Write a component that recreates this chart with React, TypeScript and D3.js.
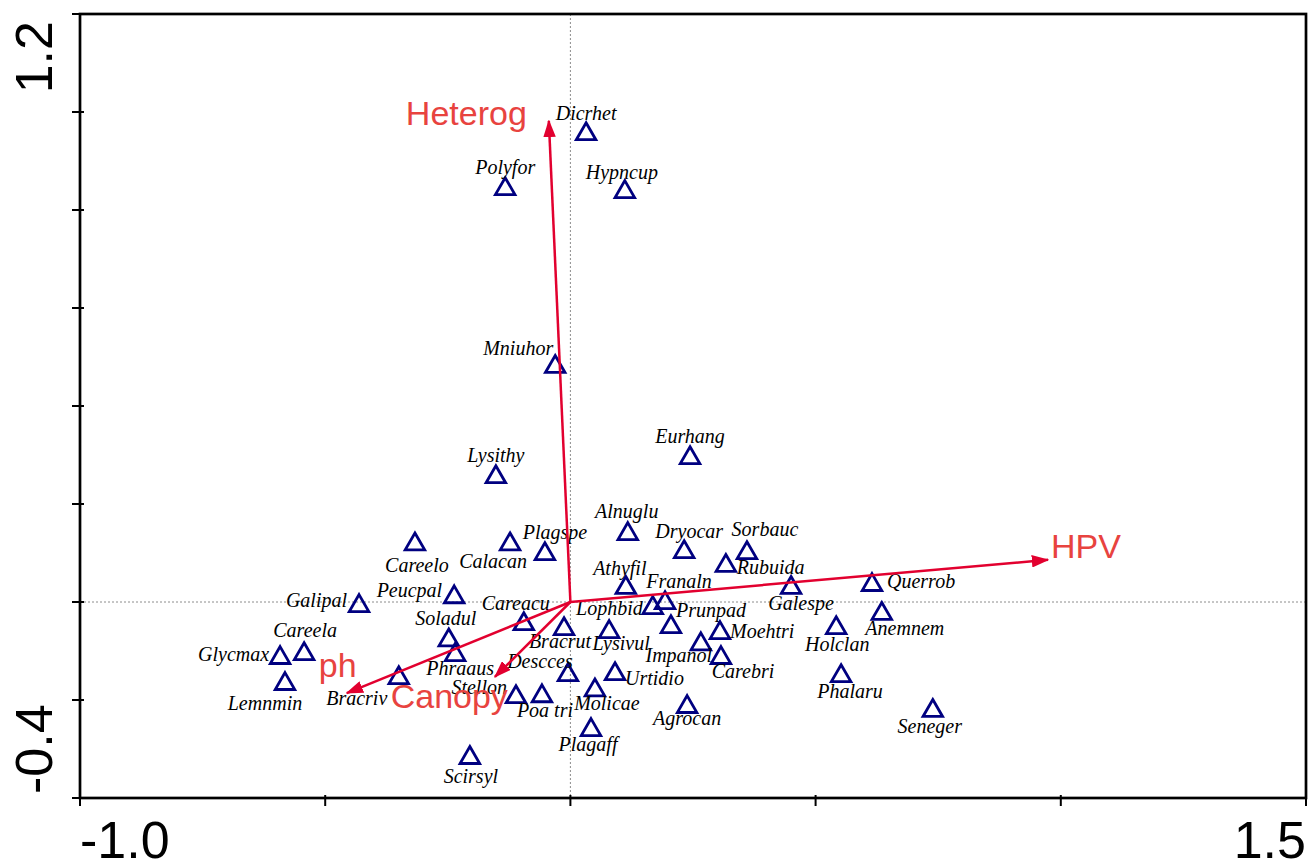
import React from 'react';
import * as d3 from 'd3';

// species scores (axis 1, axis 2)
const speciesNames = [
  'Dicrhet', 'Polyfor', 'Hypncup', 'Mniuhor', 'Eurhang', 'Lysithy', 'Careelo', 'Calacan', 'Plagspe',
  'Alnuglu', 'Dryocar', 'Sorbauc', 'Rubuida', 'Athyfil', 'Franaln', 'Lophbid', 'Prunpad', 'Galespe',
  'Querrob', 'Anemnem', 'Holclan', 'Moehtri', 'Impanol', 'Carebri', 'Phalaru', 'Seneger', 'Agrocan',
  'Urtidio', 'Lysivul', 'Molicae', 'Plagaff', 'Bracrut', 'Descces', 'Careacu', 'Poa tri', 'Stellon',
  'Scirsyl', 'Peucpal', 'Soladul', 'Phraaus', 'Galipal', 'Bracriv', 'Careela', 'Glycmax', 'Lemnmin',
];
const speciesX = [
  0.032, -0.133, 0.111, -0.031, 0.244, -0.152, -0.317, -0.123, -0.052,
  0.117, 0.232, 0.360, 0.317, 0.113, 0.193, 0.168, 0.205, 0.450,
  0.615, 0.635, 0.542, 0.305, 0.266, 0.307, 0.552, 0.739, 0.238,
  0.091, 0.079, 0.050, 0.042, -0.013, -0.005, -0.095, -0.058, -0.111,
  -0.205, -0.237, -0.248, -0.235, -0.431, -0.350, -0.543, -0.592, -0.582,
];
const speciesY = [
  0.957, 0.845, 0.839, 0.482, 0.296, 0.257, 0.120, 0.120, 0.100,
  0.141, 0.104, 0.102, 0.076, 0.031, 0.000, -0.010, -0.049, 0.031,
  0.037, -0.022, -0.051, -0.061, -0.084, -0.112, -0.149, -0.220, -0.212,
  -0.145, -0.059, -0.178, -0.259, -0.053, -0.147, -0.043, -0.190, -0.192,
  -0.316, 0.012, -0.076, -0.106, -0.006, -0.153, -0.104, -0.112, -0.165,
];

// environmental variables (arrow tips)
const envNames = ['Heterog', 'HPV', 'ph', 'Canopy'];
const envX = [-0.044, 0.974, -0.456, -0.154];
const envY = [0.982, 0.086, -0.186, -0.153];

const xTicks = [-1.0, -0.5, 0, 0.5, 1.0, 1.5];
const yTicks = [-0.4, -0.2, 0, 0.2, 0.4, 0.6, 0.8, 1.0, 1.2];
const xTickLabels = ['-1.0', '1.5'];
const yTickLabels = ['-0.4', '1.2'];

// label placement: [dx, dy, anchor]
const labelPos: Record<string, [number, number, string]> = {
  Dicrhet: [0, -13, 'middle'], Polyfor: [0, -14, 'middle'], Hypncup: [-3, -12, 'middle'],
  Mniuhor: [-2, -11, 'end'], Eurhang: [0, -14, 'middle'], Lysithy: [0, -14, 'middle'],
  Careelo: [2, 29, 'middle'], Calacan: [-17, 25, 'middle'], Plagspe: [10, -14, 'middle'],
  Alnuglu: [-1, -15, 'middle'], Dryocar: [5, -13, 'middle'], Sorbauc: [18, -16, 'middle'],
  Rubuida: [11, 9, 'start'], Athyfil: [-6, -12, 'middle'], Franaln: [14, -14, 'middle'],
  Lophbid: [-10, 8, 'end'], Prunpad: [5, -9, 'start'], Galespe: [10, 23, 'middle'],
  Querrob: [15, 4, 'start'], Anemnem: [23, 22, 'middle'], Holclan: [1, 24, 'middle'],
  Moehtri: [10, 6, 'start'], Impanol: [-22, 19, 'middle'], Carebri: [22, 21, 'middle'],
  Phalaru: [9, 23, 'middle'], Seneger: [-3, 23, 'middle'], Agrocan: [0, 19, 'middle'],
  Urtidio: [10, 12, 'start'], Lysivul: [12, 19, 'middle'], Molicae: [12, 21, 'middle'],
  Plagaff: [-3, 22, 'middle'], Bracrut: [-4, 20, 'middle'], Descces: [-28, -6, 'middle'],
  Careacu: [-8, -13, 'middle'], 'Poa tri': [3, 22, 'middle'], Stellon: [-9, -2, 'end'],
  Scirsyl: [1, 26, 'middle'], Peucpal: [-12, 1, 'end'], Soladul: [-3, -14, 'middle'],
  Phraaus: [5, 21, 'middle'], Galipal: [-12, 2, 'end'], Bracriv: [-42, 28, 'middle'],
  Careela: [1, -16, 'middle'], Glycmax: [-11, 4, 'end'], Lemnmin: [-20, 27, 'middle'],
};
const envLabelPos: Record<string, [number, number, string]> = {
  Heterog: [-22, 4, 'end'],
  HPV: [3, -2, 'start'],
  ph: [-28, -16, 'start'],
  Canopy: [13, 31, 'end'],
};

const width = 1309;
const height = 863;
const left = 80, right = 1306, top = 14, bottom = 798;

const arrowColor = '#e2002f';
const envTextColor = '#e8433f';
const pointColor = '#000080';

const App = () => {
  const x = d3.scaleLinear().domain([-1.0, 1.5]).range([left, right]);
  const y = d3.scaleLinear().domain([-0.4, 1.2]).range([bottom, top]);

  const tri = d3.symbol().type(d3.symbolTriangle).size(165)();

  return (
    <svg width={width} height={height} style={{ position: 'absolute', left: 0, top: 0, background: '#fff' }}>
      <defs>
        <marker id="arrowHead" viewBox="0 0 14 10" refX="13" refY="5" markerWidth="7" markerHeight="5"
          orient="auto" markerUnits="strokeWidth">
          <path d="M0,0 L14,5 L0,10 z" fill={arrowColor} />
        </marker>
      </defs>

      {/* zero lines */}
      <line x1={x(0)} x2={x(0)} y1={top} y2={bottom} stroke="#8c8c8c" strokeWidth={1} strokeDasharray="2,2" />
      <line x1={left} x2={right} y1={y(0)} y2={y(0)} stroke="#8c8c8c" strokeWidth={1} strokeDasharray="2,2" />

      {/* frame */}
      <rect x={left} y={top} width={right - left} height={bottom - top} fill="none" stroke="#000" strokeWidth={2.7} />

      {/* ticks */}
      {xTicks.map((t) => (
        <line key={'xt' + t} x1={x(t)} x2={x(t)} y1={bottom - 3} y2={bottom + 8} stroke="#000" strokeWidth={2} />
      ))}
      {yTicks.map((t) => (
        <line key={'yt' + t} x1={left - 8} x2={left + 4} y1={y(t)} y2={y(t)} stroke="#000" strokeWidth={2} />
      ))}

      {/* tick labels */}
      <g fontFamily="Liberation Sans, Arial, sans-serif" fontSize={52} fill="#000">
        <text x={x(-1.0)} y={858} textAnchor="start">{xTickLabels[0]}</text>
        <text x={x(1.5)} y={858} textAnchor="end">{xTickLabels[1]}</text>
        <text transform={`translate(52,${y(-0.4) - 4}) rotate(-90)`} textAnchor="start">{yTickLabels[0]}</text>
        <text transform={`translate(52,${y(1.2) + 7}) rotate(-90)`} textAnchor="end">{yTickLabels[1]}</text>
      </g>

      {/* species */}
      {speciesNames.map((name, i) => (
        <path key={'p' + name} d={tri} transform={`translate(${x(speciesX[i])},${y(speciesY[i]) + 1})`}
          fill="none" stroke={pointColor} strokeWidth={2.8} />
      ))}
      <g fontFamily="Liberation Serif, Times New Roman, serif" fontStyle="italic" fontSize={20} fill="#000">
        {speciesNames.map((name, i) => {
          const [dx, dy, anchor] = labelPos[name];
          return (
            <text key={'l' + name} x={x(speciesX[i]) + dx} y={y(speciesY[i]) + dy} textAnchor={anchor}>{name}</text>
          );
        })}
      </g>

      {/* environmental arrows */}
      {envNames.map((name, i) => (
        <line key={'a' + name} x1={x(0)} y1={y(0)} x2={x(envX[i])} y2={y(envY[i])}
          stroke={arrowColor} strokeWidth={2.5} markerEnd="url(#arrowHead)" />
      ))}
      <g fontFamily="Liberation Sans, Arial, sans-serif" fontSize={34} fill={envTextColor}>
        {envNames.map((name, i) => {
          const [dx, dy, anchor] = envLabelPos[name];
          return (
            <text key={'e' + name} x={x(envX[i]) + dx} y={y(envY[i]) + dy} textAnchor={anchor}>{name}</text>
          );
        })}
      </g>
    </svg>
  );
};

export default App;
